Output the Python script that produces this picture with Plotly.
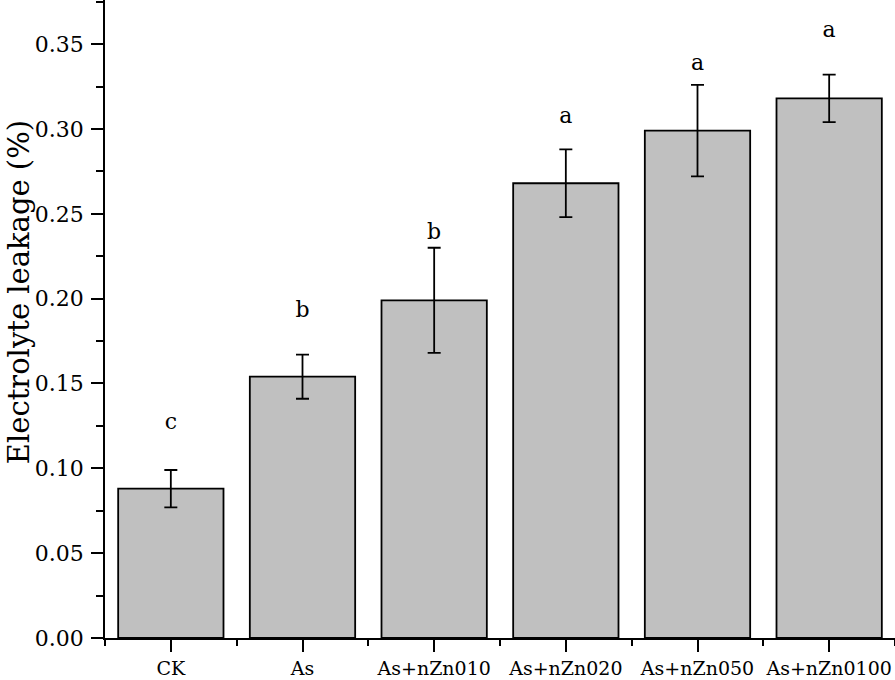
import plotly.graph_objects as go

categories = ["CK", "As", "As+nZn010", "As+nZn020", "As+nZn050", "As+nZn0100"]
values = [0.088, 0.154, 0.199, 0.268, 0.299, 0.318]
errors = [0.011, 0.013, 0.031, 0.020, 0.027, 0.014]
letters = ["c", "b", "b", "a", "a", "a"]
letter_y = [0.1267, 0.1927, 0.2386, 0.307, 0.3382, 0.3577]

xpos = list(range(len(categories)))
FONT = "DejaVu Serif"

fig = go.Figure()
fig.add_trace(go.Bar(
    x=xpos, y=values, width=0.8,
    marker=dict(color="#c0c0c0", line=dict(color="black", width=1.8)),
    error_y=dict(type="data", array=errors, visible=True, color="black",
                 thickness=1.8, width=6.5),
    showlegend=False,
))
fig.add_trace(go.Scatter(
    x=xpos, y=letter_y, mode="text", text=letters,
    textfont=dict(family=FONT, size=22, color="black"),
    textposition="middle center", showlegend=False,
))

fig.update_layout(
    width=895, height=680,
    margin=dict(l=105, r=0, t=0, b=42, autoexpand=False),
    plot_bgcolor="white", paper_bgcolor="white",
    font=dict(family=FONT, color="black"),
    bargap=0.2,
)
fig.update_xaxes(
    range=[-0.5, len(categories) - 0.5],
    tickmode="array", tickvals=xpos, ticktext=categories,
    ticks="outside", ticklen=12, tickwidth=1.8, tickcolor="black",
    showline=True, linecolor="black", linewidth=1.8,
    showgrid=False, zeroline=False, automargin=False,
    tickfont=dict(family=FONT, size=19, color="black"),
    minor=dict(tickvals=[i - 0.5 for i in range(len(categories) + 1)],
               ticks="outside", ticklen=6, tickwidth=1.8, tickcolor="black",
               showgrid=False),
)
fig.update_yaxes(
    range=[0, 0.376],
    tickmode="linear", tick0=0, dtick=0.05, tickformat=".2f",
    ticks="outside", ticklen=12, tickwidth=1.8, tickcolor="black",
    ticklabelstandoff=3,
    showline=True, linecolor="black", linewidth=1.8,
    showgrid=False, zeroline=False, automargin=False,
    tickfont=dict(family=FONT, size=22, color="black"),
    minor=dict(tick0=0.025, dtick=0.05, ticks="outside", ticklen=7,
               tickwidth=1.8, tickcolor="black", showgrid=False),
)
fig.add_annotation(
    text="Electrolyte leakage (%)", textangle=-90,
    xref="paper", yref="paper", x=0, y=0.542, xshift=-86,
    xanchor="center", yanchor="middle", showarrow=False,
    font=dict(family=FONT, size=29, color="black"),
)

fig.write_html("out.html", config={"displayModeBar": False},
               post_script="document.body.style.margin='0';")
